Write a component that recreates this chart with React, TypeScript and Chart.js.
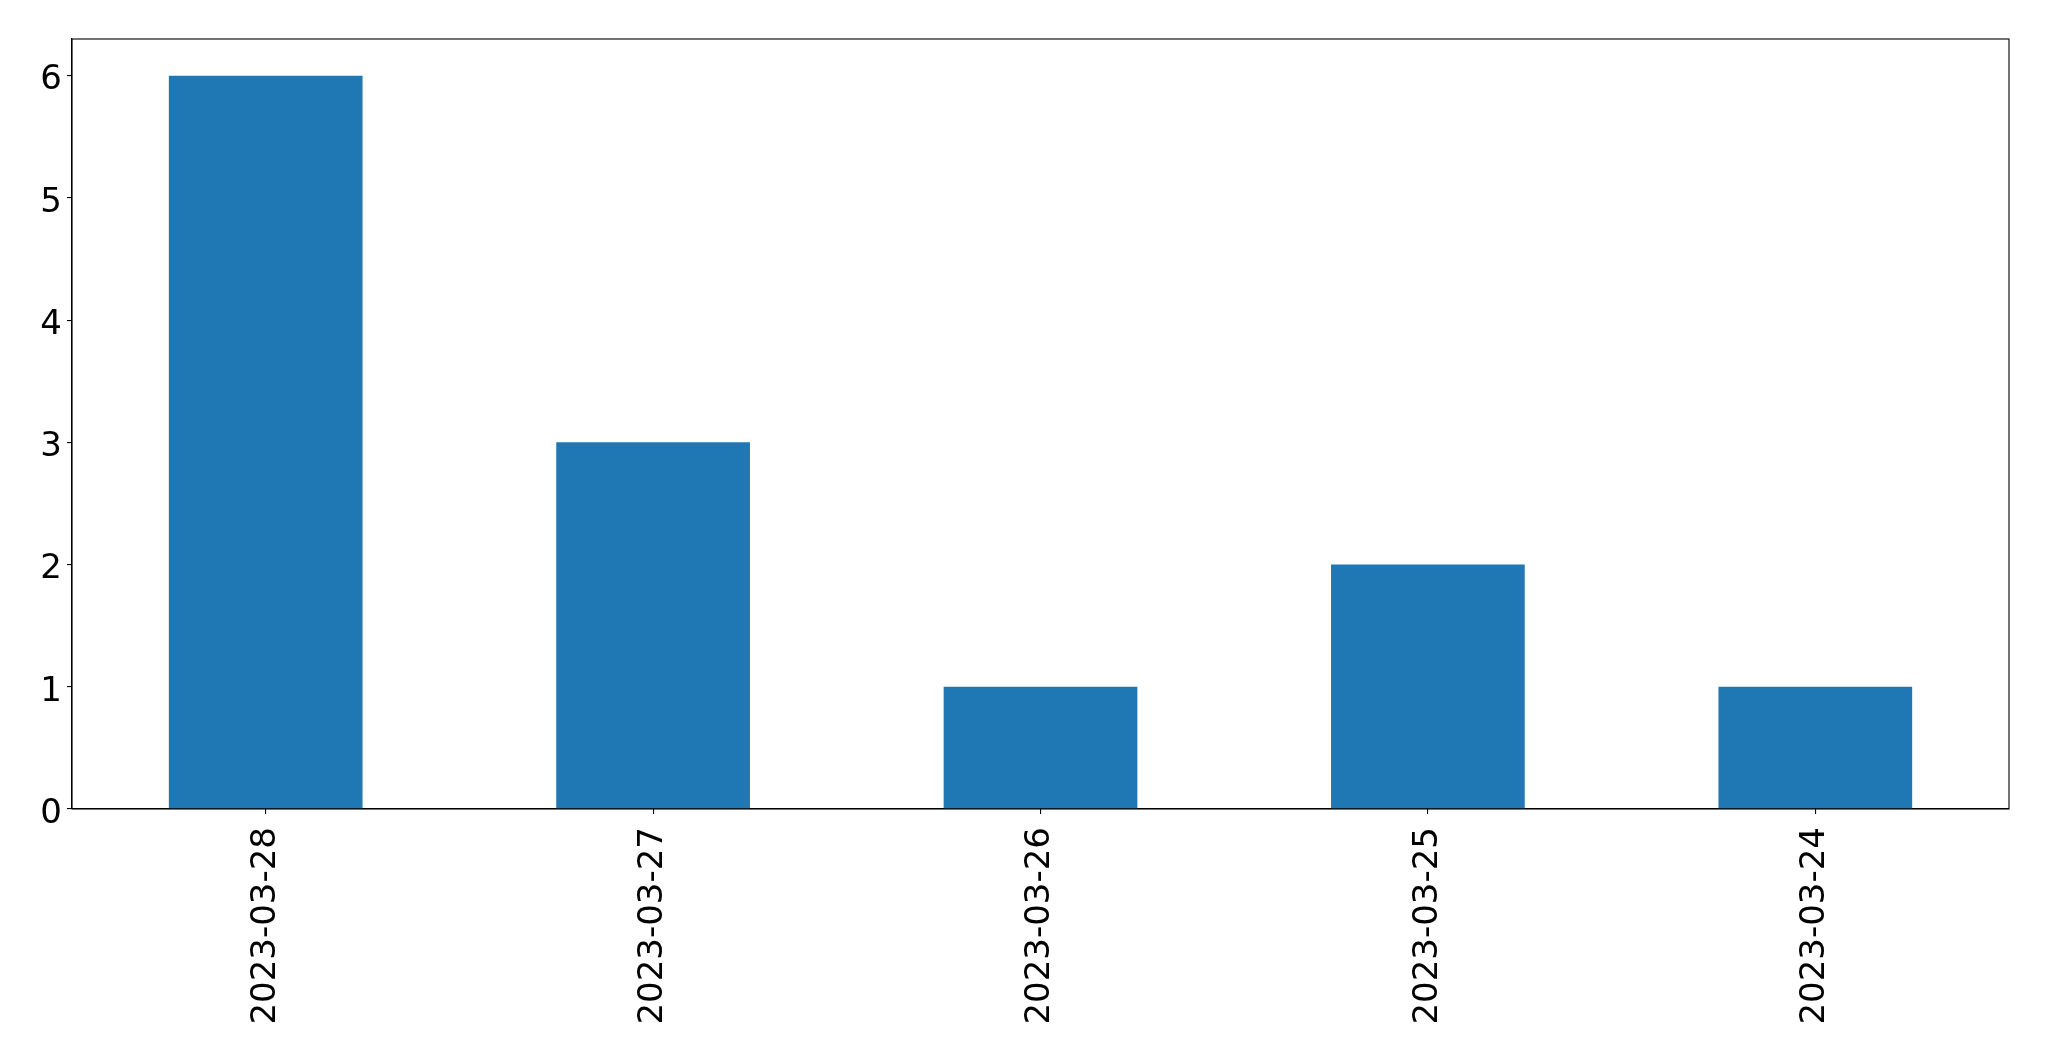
import React, { useEffect, useRef } from "react";
import { Chart, registerables } from "chart.js";

Chart.register(...registerables);

const categories = ["2023-03-28", "2023-03-27", "2023-03-26", "2023-03-25", "2023-03-24"];
const counts = [6, 3, 1, 2, 1];
const yTicks = [0, 1, 2, 3, 4, 5, 6];

const W = 2049;
const H = 1061;

const framePlugin = {
  id: "frame",
  afterDatasetsDraw(chart: any) {
    const { ctx, chartArea } = chart;
    ctx.save();
    ctx.strokeStyle = "#000";
    ctx.lineWidth = 1.1;
    ctx.strokeRect(chartArea.left, chartArea.top, chartArea.right - chartArea.left, chartArea.bottom - chartArea.top);
    ctx.restore();
  },
};

export default function App() {
  const ref = useRef<HTMLCanvasElement | null>(null);
  useEffect(() => {
    if (!ref.current) return;
    const font = { family: "'DejaVu Sans', sans-serif", size: 34 };
    const chart = new Chart(ref.current, {
      type: "bar",
      data: {
        labels: categories,
        datasets: [
          {
            data: counts,
            backgroundColor: "#1f77b4",
            borderWidth: 0,
            categoryPercentage: 1,
            barPercentage: 0.5,
          },
        ],
      },
      options: {
        animation: false,
        responsive: false,
        maintainAspectRatio: false,
        devicePixelRatio: 1,
        layout: { padding: { left: 0, top: 39, right: 40, bottom: 0 } },
        plugins: { legend: { display: false }, tooltip: { enabled: false } },
        scales: {
          x: {
            offset: true,
            grid: { display: true, offset: false, drawOnChartArea: false, drawTicks: true, tickLength: 5, color: "#000", lineWidth: 1.1 },
            border: { display: true, color: "#000", width: 1.1 },
            ticks: { font, color: "#000", minRotation: 90, maxRotation: 90, padding: 13, autoSkip: false },
            afterFit(scale: any) {
              scale.height = H - 809;
            },
          },
          y: {
            min: 0,
            max: 6.3,
            grid: { display: true, drawOnChartArea: false, drawTicks: true, tickLength: 5, color: "#000", lineWidth: 1.1 },
            border: { display: true, color: "#000", width: 1.1 },
            ticks: { font, color: "#000", padding: 5, labelOffset: 5 },
            afterBuildTicks(scale: any) {
              scale.ticks = yTicks.map((v) => ({ value: v }));
            },
            afterFit(scale: any) {
              scale.width = 72;
            },
          },
        },
      },
      plugins: [framePlugin],
    });
    return () => chart.destroy();
  }, []);
  return (
    <div style={{ position: "fixed", left: 0, top: 0, width: W, height: H, background: "#fff" }}>
      <canvas ref={ref} width={W} height={H} style={{ width: W, height: H, display: "block" }} />
    </div>
  );
}
